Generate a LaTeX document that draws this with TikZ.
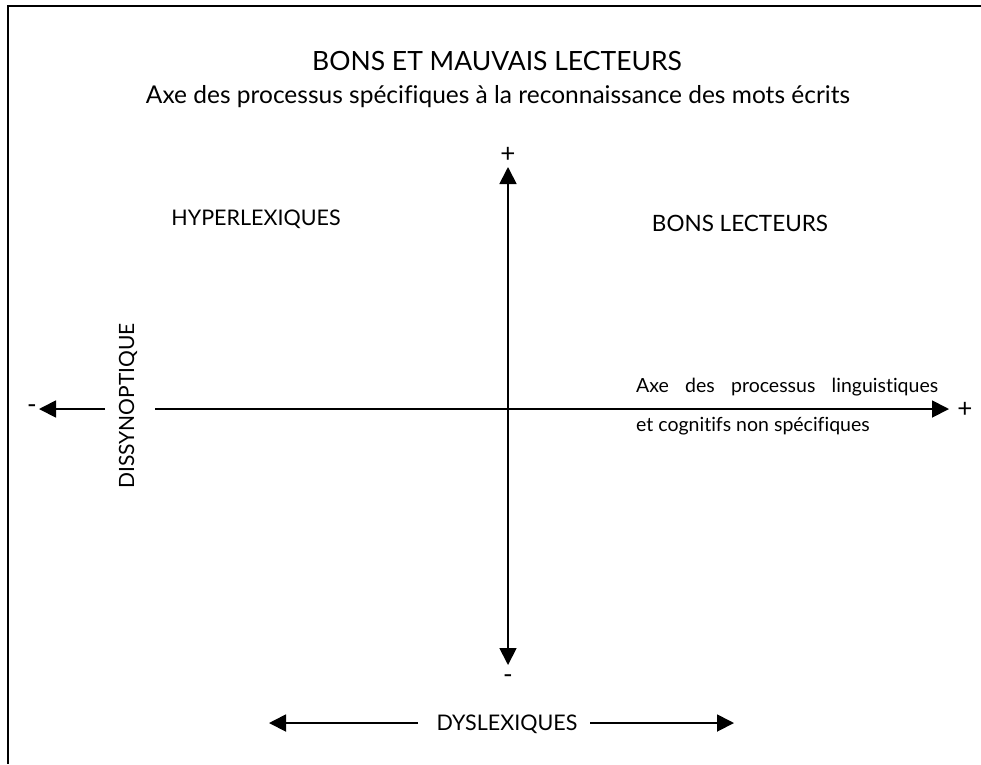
\documentclass[tikz,border=0pt]{standalone}
\usepackage{fontspec}
\setmainfont{Lato}[Ligatures=NoCommon]
\usetikzlibrary{arrows.meta}
\begin{document}
\begin{tikzpicture}[x=1pt,y=-1pt,
  axis/.style={line width=1.8pt,-{Triangle[length=17pt,width=17pt]}},
  lbl/.style={inner sep=0pt,font=\fontsize{21.5}{24}\selectfont},
  sgn/.style={inner sep=0pt,font=\fontsize{26}{28}\selectfont}]
\useasboundingbox (0,0) rectangle (981,764);
\coordinate (ftl) at (8,6);
\coordinate (ftr) at (981,6);
\coordinate (fbl) at (8,764);
\draw[line width=1.6pt] (ftr) -- (ftl) -- (fbl);
% titles
\node[inner sep=0pt,font=\fontsize{26.5}{30}\selectfont] (t1) at (497,61) {BONS ET MAUVAIS LECTEURS};
\node[inner sep=0pt,font=\fontsize{24.5}{28}\selectfont] (t2) at (498,97) {Axe des processus spécifiques à la reconnaissance des mots écrits};
% axes
\coordinate (o) at (508,409);
\coordinate (vtop) at (508,167);
\coordinate (vbot) at (508,665);
\draw[axis] (o) -- (vtop);
\draw[axis] (o) -- (vbot);
\node[sgn] (pl1) at (508,155) {+};
\node[sgn] (mi1) at (508,679) {-};
\node[lbl,rotate=90,font=\fontsize{21}{24}\selectfont] (dis) at (128,406) {DISSYNOPTIQUE};
\coordinate (hl) at (39,409);
\coordinate (hr) at (949,409);
\coordinate (dl) at (105,409);
\coordinate (dr) at (155,409);
\draw[axis] (dl) -- (hl);
\draw[axis] (dr) -- (hr);
\node[sgn] (mi2) at (32,409) {-};
\node[sgn] (pl2) at (965,410) {+};
% quadrant labels
\node[lbl] (hyp) at (256,219) {HYPERLEXIQUES};
\node[lbl,font=\fontsize{22.5}{26}\selectfont] (bons) at (740,223) {BONS LECTEURS};
\node[inner sep=0pt,anchor=west,font=\fontsize{19.5}{22}\selectfont,text width=302pt,align=justify] (ax1) at (636,387) {Axe\hfill des\hfill processus\hfill linguistiques};
\node[inner sep=0pt,anchor=west,font=\fontsize{19.5}{22}\selectfont] (ax2) at (636,426) {et cognitifs non spécifiques};
% dyslexiques
\node[lbl] (dys) at (507,724) {DYSLEXIQUES};
\coordinate (dyl) at (269,723);
\coordinate (dyr) at (734,723);
\coordinate (dyla) at (418,723);
\coordinate (dyra) at (590,723);
\draw[axis] (dyla) -- (dyl);
\draw[axis] (dyra) -- (dyr);
\end{tikzpicture}
\end{document}
